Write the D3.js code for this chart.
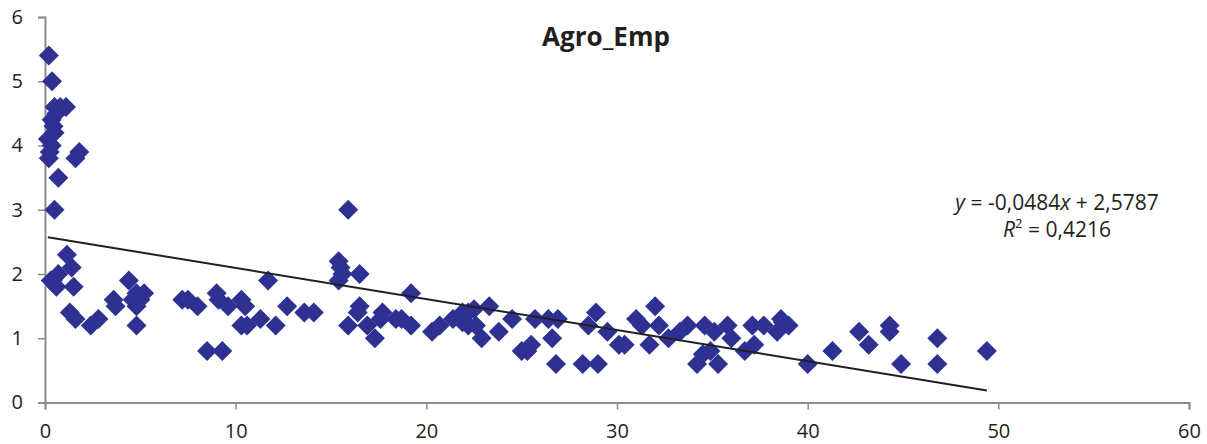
<!DOCTYPE html>
<html>
<head>
<meta charset="utf-8">
<script src="https://cdn.jsdelivr.net/npm/d3@7"></script>
<style>
  body { margin: 0; background: white; }
  text { font-family: "Open Sans", "Noto Sans", sans-serif; fill: #231f20; }
</style>
</head>
<body>
<div class="agro-chart"></div>
<script>
var xs = [0.2, 0.37, 0.5, 0.8, 1.1, 0.35, 0.6, 0.45, 0.5, 0.15, 0.35, 0.25, 0.2, 0.7, 0.5, 1.6, 1.8,
    1.15, 1.4, 0.7, 0.4, 0.6, 1.5, 0.3, 1.3, 1.6, 2.4, 2.8, 3.6, 3.7, 4.4, 4.8, 5.2, 4.6, 4.8, 4.8, 5.0,
    7.2, 7.5, 8.0, 8.5, 9.3, 9.0, 9.1, 9.6, 10.3, 10.5, 10.3, 10.6, 11.3, 11.7, 12.1, 12.7, 13.6, 14.1,
    15.9, 15.4, 15.5, 15.6, 15.4, 16.5, 16.5, 16.4, 15.9, 16.9, 17.3, 17.7, 17.6, 18.4, 18.7, 19.2, 19.2,
    20.3, 20.7, 21.4, 21.9, 22.2, 22.5, 21.9, 22.2, 22.6, 22.9, 23.3, 23.8, 24.5, 25.0, 25.3, 25.5,
    25.7, 26.4, 26.9, 26.6, 26.8,
    28.2, 29.0, 28.5, 28.9, 29.5, 30.1, 30.4, 31.0, 31.3, 32.0, 32.2, 31.7, 32.7, 33.3, 33.7, 34.6,
    35.1, 35.8, 36.0, 34.2, 34.5, 34.9, 35.3, 36.7, 37.2, 37.1, 37.7, 38.4, 38.6, 39.0, 38.7,
    40.0, 41.3, 42.7, 43.2, 44.3, 44.3, 44.9, 46.8, 46.8, 49.4];
var ys = [5.4, 5.0, 4.6, 4.6, 4.6, 4.4, 4.5, 4.3, 4.2, 4.1, 4.0, 3.9, 3.8, 3.5, 3.0, 3.8, 3.9,
    2.3, 2.1, 2.0, 1.9, 1.8, 1.8, 1.9, 1.4, 1.3, 1.2, 1.3, 1.6, 1.5, 1.9, 1.7, 1.7, 1.6, 1.5, 1.2, 1.6,
    1.6, 1.6, 1.5, 0.8, 0.8, 1.7, 1.6, 1.5, 1.6, 1.5, 1.2, 1.2, 1.3, 1.9, 1.2, 1.5, 1.4, 1.4,
    3.0, 2.2, 2.1, 2.0, 1.9, 2.0, 1.5, 1.4, 1.2, 1.2, 1.0, 1.4, 1.3, 1.3, 1.3, 1.2, 1.7,
    1.1, 1.2, 1.3, 1.4, 1.4, 1.45, 1.25, 1.2, 1.2, 1.0, 1.5, 1.1, 1.3, 0.8, 0.8, 0.9,
    1.3, 1.3, 1.3, 1.0, 0.6,
    0.6, 0.6, 1.2, 1.4, 1.1, 0.9, 0.9, 1.3, 1.2, 1.5, 1.2, 0.9, 1.0, 1.1, 1.2, 1.2,
    1.1, 1.2, 1.0, 0.6, 0.75, 0.8, 0.6, 0.8, 0.9, 1.2, 1.2, 1.1, 1.3, 1.2, 1.25,
    0.6, 0.8, 1.1, 0.9, 1.2, 1.1, 0.6, 1.0, 0.6, 0.8];

var xTicks = [0, 10, 20, 30, 40, 50, 60];
var yTicks = [0, 1, 2, 3, 4, 5, 6];
var slope = -0.0484, intercept = 2.5787, r2 = '0,4216';

var width = 1207,
    height = 444,
    markerR = 10;

var x = d3.scaleLinear().domain([0, 60]).range([45, 1189]);
var y = d3.scaleLinear().domain([0, 6]).range([402.5, 17]);

var svg = d3.select('.agro-chart').append('svg')
    .attr('width', width)
    .attr('height', height)
    .style('display', 'block');

// axes
var xAxis = svg.append('g')
    .attr('transform', 'translate(0,' + y(0) + ')')
    .call(d3.axisBottom(x).tickValues(xTicks).tickSize(7).tickPadding(14).tickFormat(d3.format('d')));
var yAxis = svg.append('g')
    .attr('transform', 'translate(' + x(0) + ',0)')
    .call(d3.axisLeft(y).tickValues(yTicks).tickSize(7).tickPadding(15).tickFormat(d3.format('d')));

[xAxis, yAxis].forEach(function(a) {
    a.select('.domain').attr('stroke', '#8c8c8c').attr('stroke-width', 2);
    a.selectAll('.tick line').attr('stroke', '#8c8c8c').attr('stroke-width', 1.5);
    a.selectAll('.tick text').attr('font-size', 20).attr('fill', '#231f20')
        .style('font-family', '"Open Sans", sans-serif');
});

// points
var diamond = 'M0,' + (-markerR) + 'L' + markerR + ',0L0,' + markerR + 'L' + (-markerR) + ',0Z';
svg.append('g').selectAll('path').data(xs)
    .enter().append('path')
        .attr('d', diamond)
        .attr('fill', '#2e3192')
        .attr('transform', function(d, i) {
            return 'translate(' + x(d) + ',' + y(ys[i]) + ')';
        });

// trend line
var ext = d3.extent(xs);
svg.append('line')
    .attr('x1', x(ext[0])).attr('y1', y(intercept + slope * ext[0]))
    .attr('x2', x(ext[1])).attr('y2', y(intercept + slope * ext[1]))
    .attr('stroke', '#231f20')
    .attr('stroke-width', 2);

// title
svg.append('text')
    .text('Agro_Emp')
    .attr('x', 606)
    .attr('y', 46)
    .attr('text-anchor', 'middle')
    .attr('font-size', 26)
    .attr('font-weight', 'bold');

// equation
var eq = svg.append('text')
    .attr('x', 1057)
    .attr('y', 210)
    .attr('text-anchor', 'middle')
    .attr('font-size', 21);
eq.append('tspan').attr('font-style', 'italic').text('y');
eq.append('tspan').text(' = ' + String(slope).replace('.', ','));
eq.append('tspan').attr('font-style', 'italic').text('x');
eq.append('tspan').text(' + ' + String(intercept).replace('.', ','));

var r = svg.append('text')
    .attr('x', 1057)
    .attr('y', 237)
    .attr('text-anchor', 'middle')
    .attr('font-size', 21);
r.append('tspan').attr('font-style', 'italic').text('R');
r.append('tspan').attr('font-size', 13).attr('dy', -9).text('2');
r.append('tspan').attr('dy', 9).text(' = ' + r2);
</script>
</body>
</html>
